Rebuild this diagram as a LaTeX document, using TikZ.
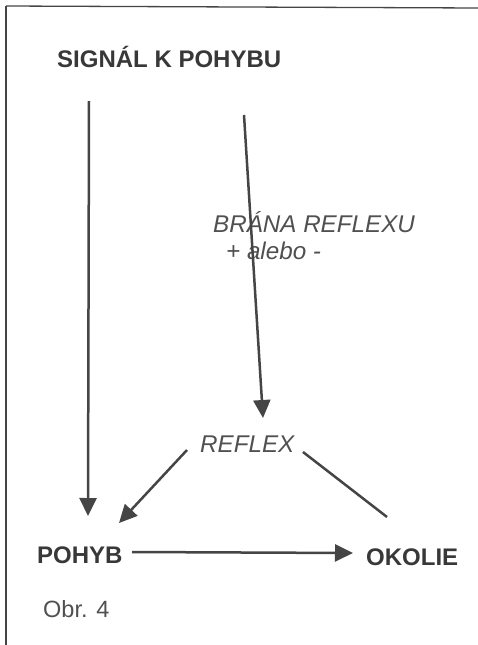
\documentclass[tikz,border=0pt]{standalone}
\usepackage{fontspec}
\setmainfont{Liberation Sans}
\usetikzlibrary{arrows.meta}
\definecolor{ink}{HTML}{383838}
\definecolor{lineink}{HTML}{454545}
\definecolor{softink}{HTML}{505050}
\begin{document}
\begin{tikzpicture}[x=1pt,y=-1pt,
  label/.style={anchor=base west,inner sep=0pt,text=ink,font=\fontsize{24}{28}\selectfont\bfseries},
  itlabel/.style={anchor=base west,inner sep=0pt,text=softink,font=\fontsize{24.2}{28}\selectfont\itshape},
  plain/.style={anchor=base west,inner sep=0pt,text=softink,font=\fontsize{23.5}{28}\selectfont},
  link/.style={draw=lineink,line width=2.5pt},
  arrowlink/.style={link,-{Triangle[length=18pt,width=17pt]}}]
\useasboundingbox (0,0) rectangle (478,645);
% frame edges
\draw[lineink,line width=1.3pt] (6,6) -- (478,8);
\draw[lineink,line width=1.3pt] (6,6) -- (6,645);
% labels
\node[label] (signal) at (57,67) {SIGNÁL K POHYBU};
\node[itlabel] (gate) at (213,232) {BRÁNA REFLEXU};
\node[itlabel] (sign) at (226,259) {+ alebo -};
\node[itlabel] (reflex) at (200,452) {REFLEX};
\node[label] (move) at (37,563) {POHYB};
\node[label] (env) at (366,565) {OKOLIE};
\node[plain] (fig) at (43,617) {Obr. 4};
% connector ends
\coordinate (signalL) at (89,101);
\coordinate (signalR) at (244,115);
\coordinate (moveTop) at (88,516);
\coordinate (reflexTop) at (263,418);
\coordinate (reflexL) at (187,450);
\coordinate (reflexR) at (303,452);
\coordinate (moveIn) at (119,523);
\coordinate (envIn) at (387,517);
\coordinate (moveOut) at (132,552);
\coordinate (envLeft) at (353,553);
% connectors
\draw[arrowlink] (signalL) -- (moveTop);
\draw[arrowlink] (signalR) -- (reflexTop);
\draw[arrowlink] (reflexL) -- (moveIn);
\draw[link] (reflexR) -- (envIn);
\draw[arrowlink] (moveOut) -- (envLeft);
\end{tikzpicture}
\end{document}
